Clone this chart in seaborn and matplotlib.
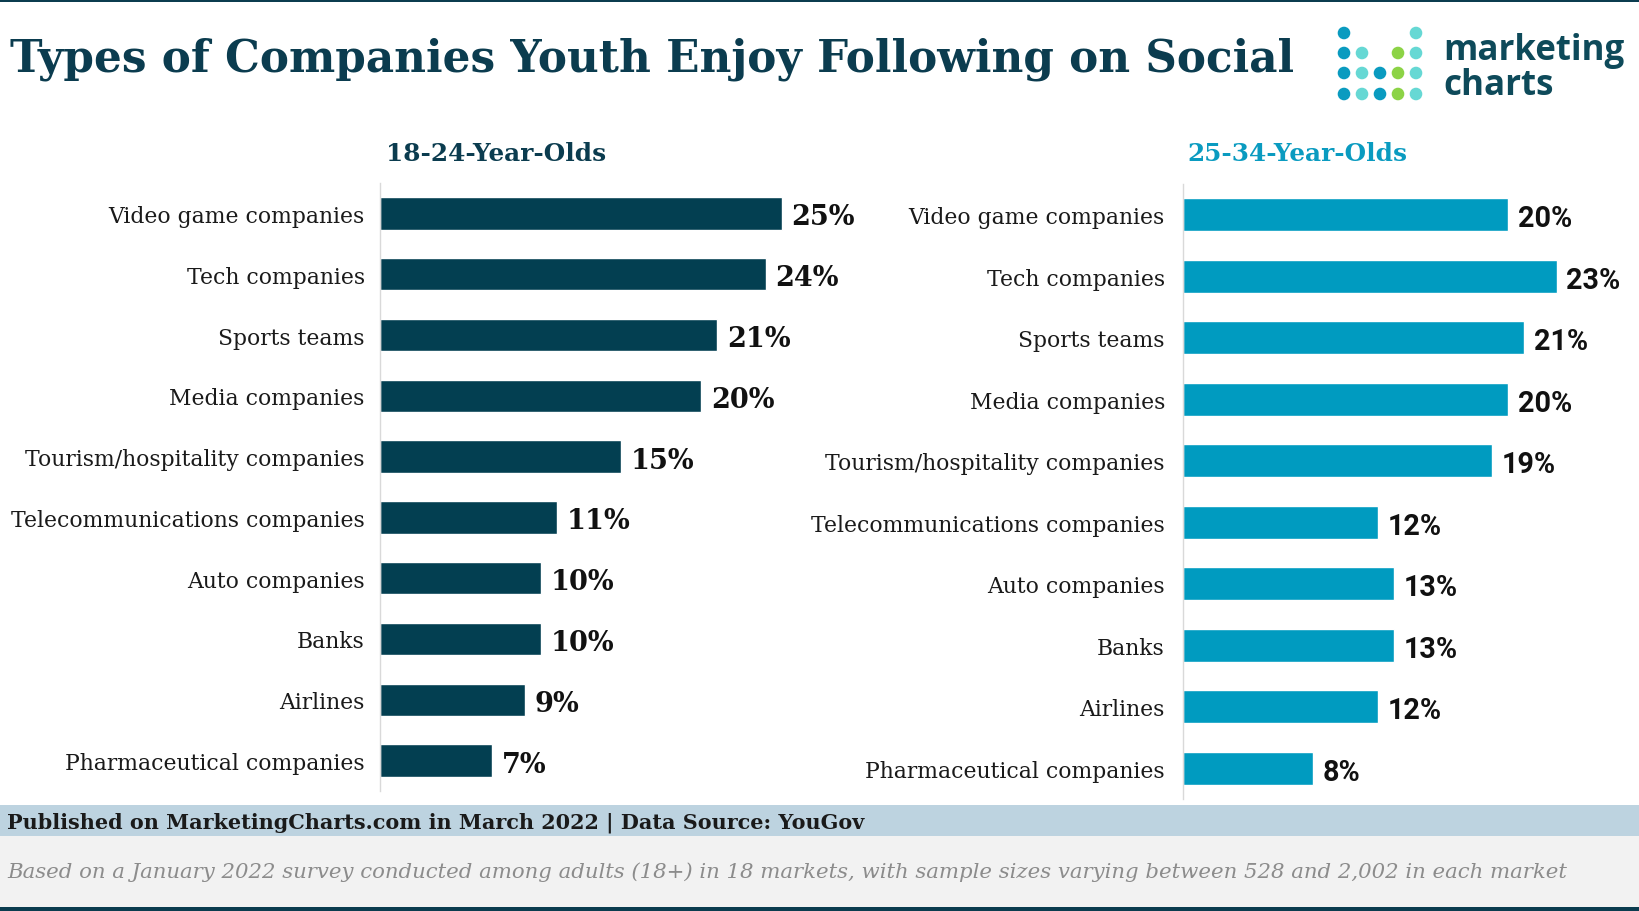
import matplotlib
matplotlib.use("Agg")
import matplotlib.pyplot as plt
from matplotlib.patches import Rectangle, Circle
import seaborn as sns
import pandas as pd

# ---------------- data ----------------
categories = ["Video game companies", "Tech companies", "Sports teams", "Media companies",
              "Tourism/hospitality companies", "Telecommunications companies",
              "Auto companies", "Banks", "Airlines", "Pharmaceutical companies"]
age_18_24 = [25, 24, 21, 20, 15, 11, 10, 10, 9, 7]
age_25_34 = [20, 23, 21, 20, 19, 12, 13, 13, 12, 8]
panel_titles = ["18-24-Year-Olds", "25-34-Year-Olds"]
title = "Types of Companies Youth Enjoy Following on Social"
source_line = "Published on MarketingCharts.com in March 2022 | Data Source: YouGov"
note_line = ("Based on a January 2022 survey conducted among adults (18+) in 18 markets, "
             "with sample sizes varying between 528 and 2,002 in each market")

# ---------------- style ----------------
sns.set_theme(style="white")
plt.rcParams["font.family"] = ["DejaVu Serif", "DejaVu Sans"]

W, H = 1640, 912
DARK = "#033F51"
TEAL = "#009BC0"
TITLE_C = "#0B3C4F"

fig = plt.figure(figsize=(W / 100, H / 100), dpi=100)
fig.patch.set_facecolor("white")
renderer = fig.canvas.get_renderer()


def fit_text(t, target_px):
    bb = t.get_window_extent(renderer=renderer)
    t.set_fontsize(t.get_fontsize() * target_px / bb.width)


def fit_size(text, target_px, **kw):
    t = fig.text(0, 0, text, fontsize=20, **kw)
    bb = t.get_window_extent(renderer=renderer)
    t.remove()
    return 20 * target_px / bb.width


# overlay axes in pixel coordinates for bands and logo
ov = fig.add_axes([0, 0, 1, 1], zorder=-1)
ov.set_xlim(0, W)
ov.set_ylim(H, 0)
ov.axis("off")
ov.add_patch(Rectangle((0, 0), W, 3, color=TITLE_C, lw=0))
ov.add_patch(Rectangle((0, 806), W, 31, color="#BDD3E0", lw=0))
ov.add_patch(Rectangle((0, 837), W, 71, color="#F2F2F2", lw=0))
ov.add_patch(Rectangle((0, 908), W, 4, color=TITLE_C, lw=0))

# logo
c_blue, c_turq, c_green = "#0A9BC0", "#66D8D4", "#8CD346"
cols_x = [1344, 1362, 1380, 1398, 1416]
rows_y = [34, 54, 74, 95]
logo_grid = [
    [c_blue, None, None, None, c_turq],
    [c_blue, c_turq, None, c_green, c_turq],
    [c_blue, c_turq, c_blue, c_green, c_turq],
    [c_blue, c_turq, c_blue, c_green, c_turq],
]
for r, row in enumerate(logo_grid):
    for c, col in enumerate(row):
        if col:
            ov.add_patch(Circle((cols_x[c], rows_y[r]), 6.3, color=col, lw=0))

logo_font = ["Open Sans", "DejaVu Sans"]
t = fig.text(1443 / W, 1 - 51 / H, "marketing", fontsize=20, fontweight="bold",
             family=logo_font, color="#0E4A5A", va="center", ha="left")
fit_text(t, 181)
t2 = fig.text(1443 / W, 1 - 86 / H, "charts", fontsize=t.get_fontsize(), fontweight="bold",
              family=logo_font, color="#0E4A5A", va="center", ha="left")

# title
tt = fig.text(10 / W, 1 - 59 / H, title, fontsize=36, fontweight="bold",
              color=TITLE_C, va="center", ha="left")
fit_text(tt, 1284)

# footer
ft = fig.text(7 / W, 1 - 823 / H, source_line, fontsize=16, fontweight="bold",
              color="#1A1A1A", va="center", ha="left")
fit_text(ft, 853)
nt = fig.text(7 / W, 1 - 872 / H, note_line, fontsize=16, style="italic",
              color="#8C8C8C", va="center", ha="left")
fit_text(nt, 1565)

# ---------------- panels ----------------
label_size = fit_size("Telecommunications companies", 352)
val_size_right = fit_size("20%", 54, fontweight="bold", family=["Roboto", "DejaVu Sans"])
val_size_left = 19.5

panels = [
    dict(vals=age_18_24, rect=[380, 184, 450, 608], color=DARK, title=panel_titles[0],
         title_x=386, title_c=TITLE_C, pad=11, vfont=["DejaVu Serif"], vsize=val_size_left),
    dict(vals=age_25_34, rect=[1183, 185, 455, 615], color=TEAL, title=panel_titles[1],
         title_x=1187, title_c="#0A9BC0", pad=13, vfont=["Roboto", "DejaVu Sans"],
         vsize=val_size_right),
]

title_size = fit_size(panel_titles[0], 220, fontweight="bold")

for p in panels:
    x0, ytop, w, h = p["rect"]
    ax = fig.add_axes([x0 / W, 1 - (ytop + h) / H, w / W, h / H])
    df = pd.DataFrame({"category": categories, "value": p["vals"]})
    sns.barplot(data=df, y="category", x="value", orient="h", color=p["color"],
                saturation=1, width=0.53, ax=ax, order=categories)
    ax.set_xlim(0, 28)
    ax.set_ylim(len(categories) - 0.5, -0.5)
    for sp in ["top", "right", "bottom"]:
        ax.spines[sp].set_visible(False)
    ax.spines["left"].set_color("#D9D9D9")
    ax.spines["left"].set_linewidth(1)
    ax.set_xticks([])
    ax.set_xlabel("")
    ax.set_ylabel("")
    ax.tick_params(axis="y", which="major", length=0, pad=p["pad"],
                   labelsize=label_size, labelcolor="#1A1A1A")
    ax.set_yticks([i + 0.5 for i in range(-1, len(categories))], minor=True)
    ax.tick_params(axis="y", which="minor", length=4, color="#D9D9D9", width=1)
    for lbl in ax.get_yticklabels():
        lbl.set_fontweight("light")
    for cont in ax.containers:
        anns = ax.bar_label(cont, labels=[f"{v}%" for v in p["vals"]], padding=7,
                            fontsize=p["vsize"], fontweight="bold", color="#111111",
                            family=p["vfont"])
        for a in anns:
            a.xyann = (a.xyann[0], a.xyann[1] - 2.5)
    ax.patch.set_alpha(0)
    fig.text(p["title_x"] / W, 1 - 154 / H, p["title"], fontsize=title_size,
             fontweight="bold", color=p["title_c"], va="center", ha="left")

fig.savefig("out.png", dpi=100, facecolor="white")
